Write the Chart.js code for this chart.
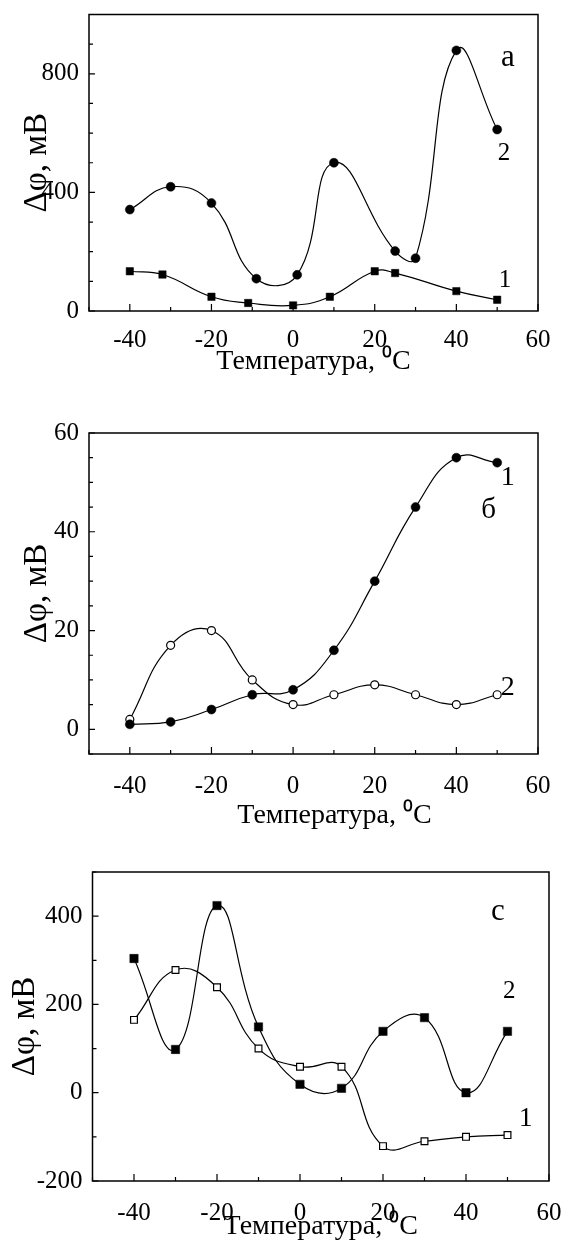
<!DOCTYPE html>
<html>
<head>
<meta charset="utf-8">
<script src="https://cdn.jsdelivr.net/npm/chart.js@4.4.1/dist/chart.umd.min.js"></script>
<style>
html, body { margin: 0; padding: 0; background: #fff; }
#wrap { position: relative; width: 573px; height: 1240px; overflow: hidden; background: #fff; }
canvas { position: absolute; left: 0; }
</style>
</head>
<body>
<div id="wrap">
  <canvas id="ca" width="573" height="400" style="top:0px"></canvas>
  <canvas id="cb" width="573" height="440" style="top:400px"></canvas>
  <canvas id="cc" width="573" height="400" style="top:840px"></canvas>
</div>
<script>
// ---------- data ----------
// panel a
const tempA1 = [-40, -32, -20, -11, 0, 9, 20, 25, 40, 50];
const potA1  = [134, 123, 48, 27, 19, 48, 134, 128, 67, 38];
const tempA2 = [-40, -30, -20, -9, 1, 10, 25, 30, 40, 50];
const potA2  = [342, 419, 364, 109, 122, 500, 202, 178, 879, 612];
// panel б
const tempB  = [-40, -30, -20, -10, 0, 10, 20, 30, 40, 50];
const potB1  = [1, 1.5, 4, 7, 8, 16, 30, 45, 55, 54];
const potB2  = [2, 17, 20, 10, 5, 7, 9, 7, 5, 7];
// panel c
const tempC  = [-40, -30, -20, -10, 0, 10, 20, 30, 40, 50];
const potC1  = [165, 278, 239, 100, 59, 59, -121, -110, -100, -96];
const potC2  = [304, 98, 424, 149, 19, 10, 139, 170, 0, 139];

// ---------- ticks ----------
const xMajorTicks  = [-40, -20, 0, 20, 40, 60];
const xMinorTicks  = [-50, -30, -10, 10, 30, 50];
const yMajorTicksA = [0, 400, 800];
const yMinorTicksA = [100, 200, 300, 500, 600, 700, 900, 1000];
const yMajorTicksB = [0, 20, 40, 60];
const yMinorTicksB = [-5, 5, 10, 15, 25, 30, 35, 45, 50, 55];
const yMajorTicksC = [-200, 0, 200, 400];
const yMinorTicksC = [-100, 100, 300, 500];

// ---------- texts ----------
const xTitleText = 'Температура, ⁰C';
const yTitleText = 'Δφ, мВ';
const panelLetters = ['а', 'б', 'с'];
const curveNames = ['1', '2'];

// ---------- drawing ----------
const FONT = '"Liberation Serif", "Times New Roman", serif';
const W = 573;

const framePlugin = {
  id: 'frame',
  afterDatasetsDraw(chart, args, opts) {
    const { ctx, chartArea: a, scales } = chart;
    ctx.save();
    ctx.strokeStyle = '#000';
    ctx.lineWidth = 1.5;
    ctx.strokeRect(a.left, a.top, a.right - a.left, a.bottom - a.top);
    ctx.lineWidth = 1.2;
    ctx.beginPath();
    scales.x.ticks.forEach(t => {
      const px = scales.x.getPixelForValue(t.value);
      const len = t.label ? 7 : 4;
      ctx.moveTo(px, a.bottom); ctx.lineTo(px, a.bottom - len);
    });
    scales.y.ticks.forEach(t => {
      const py = scales.y.getPixelForValue(t.value);
      const len = t.label ? 6 : 4;
      ctx.moveTo(a.left, py); ctx.lineTo(a.left + len, py);
    });
    ctx.stroke();
    (opts.notes || []).forEach(n => {
      ctx.font = n.size + 'px ' + FONT;
      ctx.fillStyle = '#000';
      ctx.textAlign = 'center';
      ctx.textBaseline = 'alphabetic';
      ctx.fillText(n.text, scales.x.getPixelForValue(n.x), scales.y.getPixelForValue(n.y));
    });
    ctx.restore();
  }
};

function pts(xs, ys) { return xs.map((x, i) => ({ x: x, y: ys[i] })); }

function lineSet(data, style, radius, filled) {
  return {
    data: data,
    borderColor: '#000',
    borderWidth: 1.2,
    tension: 0.45,
    fill: false,
    pointStyle: style,
    pointRadius: radius,
    pointHoverRadius: radius,
    pointBorderColor: '#000',
    pointBorderWidth: filled ? 0.5 : 1.2,
    pointBackgroundColor: filled ? '#000' : '#fff'
  };
}

function makeChart(id, p) {
  const xTicksAll = xMajorTicks.concat(xMinorTicks).sort((a, b) => a - b);
  const yTicksAll = p.yMajor.concat(p.yMinor).sort((a, b) => a - b);
  return new Chart(document.getElementById(id), {
    type: 'line',
    data: { datasets: p.datasets },
    plugins: [framePlugin],
    options: {
      responsive: false,
      animation: false,
      devicePixelRatio: 1,
      layout: { padding: { left: 0, top: p.area.top, right: W - p.area.right, bottom: 0 } },
      plugins: { legend: { display: false }, tooltip: { enabled: false }, frame: { notes: p.notes } },
      scales: {
        x: {
          type: 'linear', min: -50, max: 60,
          afterFit: s => { s.height = p.H - p.area.bottom; },
          afterBuildTicks: s => { s.ticks = xTicksAll.map(v => ({ value: v })); },
          grid: { display: false }, border: { display: false },
          ticks: {
            autoSkip: false, maxRotation: 0, minRotation: 0, padding: p.xTickPad, color: '#000',
            font: { family: FONT, size: 25, lineHeight: 1 },
            callback: v => xMajorTicks.includes(v) ? String(v) : ''
          },
          title: {
            display: true, text: p.xTitle, color: '#000',
            font: { family: FONT, size: 28, lineHeight: 1 },
            padding: { top: 0, bottom: p.xTitlePad }
          }
        },
        y: {
          type: 'linear', min: p.yRange[0], max: p.yRange[1],
          afterFit: s => { s.width = p.area.left; },
          afterBuildTicks: s => { s.ticks = yTicksAll.map(v => ({ value: v })); },
          grid: { display: false }, border: { display: false },
          ticks: {
            autoSkip: false, padding: 2, color: '#000',
            font: { family: FONT, size: 25, lineHeight: 1 },
            callback: v => p.yMajor.includes(v) ? String(v) : ''
          },
          title: {
            display: true, text: yTitleText, color: '#000',
            font: { family: FONT, size: 33, lineHeight: 1 },
            padding: { top: p.yTitlePad, bottom: 0 }
          }
        }
      }
    }
  });
}

makeChart('ca', {
  H: 400, area: { left: 89, top: 13, right: 538, bottom: 311 },
  yRange: [0, 1000], yMajor: yMajorTicksA, yMinor: yMinorTicksA,
  xTickPad: 9, xTitle: xTitleText, xTitlePad: 24, yTitlePad: 21,
  datasets: [
    lineSet(pts(tempA1, potA1), 'rect', 5.2, true),
    lineSet(pts(tempA2, potA2), 'circle', 4.5, true)
  ],
  notes: [
    { text: panelLetters[0], x: 52.6, y: 826, size: 31 },
    { text: curveNames[1], x: 51.7, y: 509, size: 25 },
    { text: curveNames[0], x: 51.9, y: 81, size: 25 }
  ]
});

makeChart('cb', {
  H: 440, area: { left: 89, top: 33, right: 538, bottom: 354 },
  yRange: [-5, 60], yMajor: yMajorTicksB, yMinor: yMinorTicksB,
  xTickPad: 12, xTitle: '      ' + xTitleText, xTitlePad: 10.5, yTitlePad: 21,
  datasets: [
    lineSet(pts(tempB, potB1), 'circle', 4.5, true),
    lineSet(pts(tempB, potB2), 'circle', 4, false)
  ],
  notes: [
    { text: curveNames[0], x: 52.6, y: 49.5, size: 28 },
    { text: panelLetters[1], x: 47.9, y: 42.8, size: 29 },
    { text: curveNames[1], x: 52.6, y: 6.95, size: 28 }
  ]
});

makeChart('cc', {
  H: 400, area: { left: 92.5, top: 32, right: 559, bottom: 341 },
  yRange: [-200, 500], yMajor: yMajorTicksC, yMinor: yMinorTicksC,
  xTickPad: 11.5, xTitle: xTitleText, xTitlePad: -1, yTitlePad: 8.5,
  datasets: [
    lineSet(pts(tempC, potC1), 'rect', 4.8, false),
    lineSet(pts(tempC, potC2), 'rect', 5.9, true)
  ],
  notes: [
    { text: panelLetters[2], x: 47.7, y: 391, size: 31 },
    { text: curveNames[1], x: 50.4, y: 214, size: 25 },
    { text: curveNames[0], x: 54.4, y: -75.5, size: 27 }
  ]
});
</script>
</body>
</html>
